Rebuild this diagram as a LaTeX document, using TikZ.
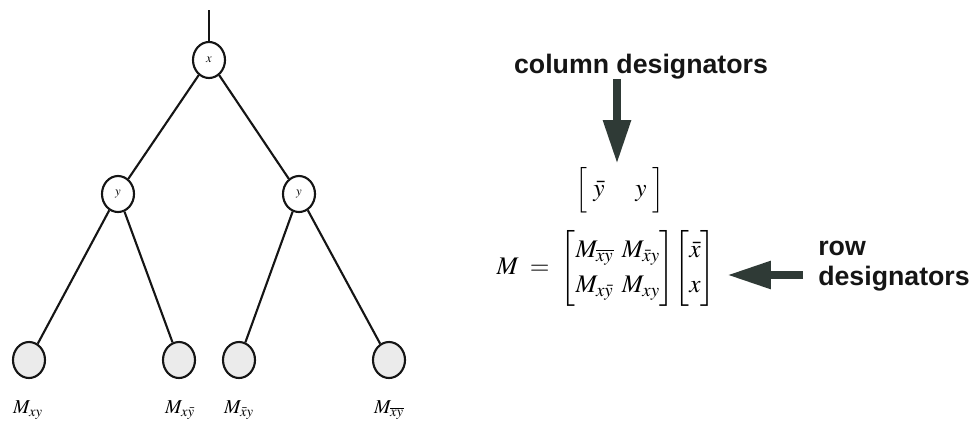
\documentclass[tikz,border=0pt]{standalone}
\usepackage{amsmath}
\usepackage{mathptmx}
\usepackage{fontspec}
\setsansfont{Liberation Sans}
\usetikzlibrary{arrows.meta,positioning,shapes.geometric}
\definecolor{ink}{HTML}{151515}
\definecolor{leafwash}{HTML}{EBEBEB}
\definecolor{slab}{HTML}{2F3A36}
\tikzset{
vertex/.style={draw=ink,ellipse,line width=1.5pt,minimum width=0.8cm,minimum height=0.9cm,inner sep=0pt,font=\fontsize{9}{10}\selectfont},
leaf/.style={vertex,fill=leafwash},
branch/.style={draw=ink,line width=1.5pt},
leaflabel/.style={font=\bfseries\fontsize{14}{15}\selectfont,inner sep=0pt},
heading/.style={font=\sffamily\bfseries\fontsize{19}{21}\selectfont,text=ink,align=left,inner sep=0pt},
equation/.style={font=\fontsize{18}{22}\selectfont,inner sep=2pt},
bigarrow/.style={-{Triangle[length=11mm,width=6.5mm]},line width=6pt,draw=slab}}
\begin{document}
\begin{tikzpicture}[x=0.025cm,y=-0.025cm]
\useasboundingbox (0,0) rectangle (977,422);
\coordinate (top) at (209,10);
\node[vertex] (xv) at (209,60) {$x$};
\node[vertex] (yl) at (118,194) {$y$};
\node[vertex] (yr) at (299,194) {$y$};
\node[leaf] (l1) at (29,360) {};
\node[leaf] (l2) at (179,360) {};
\node[leaf] (l3) at (239,360) {};
\node[leaf] (l4) at (389,360) {};
\node[leaflabel] (m1) at (28,410) {$M_{xy}$};
\node[leaflabel] (m2) at (180,410) {$M_{x\bar{y}}$};
\node[leaflabel] (m3) at (239,410) {$M_{\bar{x}y}$};
\node[leaflabel] (m4) at (389,410) {$M_{\overline{xy}}$};
\draw[branch] (top)--(xv);
\draw[branch] (xv)--(yl);
\draw[branch] (xv)--(yr);
\draw[branch] (yl)--(l1);
\draw[branch] (yl)--(l2);
\draw[branch] (yr)--(l3);
\draw[branch] (yr)--(l4);
\node[heading,anchor=base] (colhead) at (641,73) {column designators};
\node[equation] (rowvec) at (620,190) {$\left[\vphantom{\Big|}\;\bar{y}\quad\; y\;\right]$};
\node[equation] (matrixeq) at (606,268) {\renewcommand{\arraystretch}{1.15}$M\;=\;\begin{bmatrix}M_{\overline{xy}} & \!\!M_{\bar{x}y}\\ M_{x\bar{y}} & \!\!M_{xy}\end{bmatrix}\!\begin{bmatrix}\bar{x}\\ x\end{bmatrix}$};
\node[heading,anchor=west] (rowhead) at (818,266) {row\\designators};
\coordinate (rowtail) at (803,275);
\draw[bigarrow] (colhead.south -| 617,0)--(rowvec.north -| 617,0);
\draw[bigarrow,shorten >=6pt] (rowtail)--(matrixeq.east |- rowtail);
\end{tikzpicture}
\end{document}
